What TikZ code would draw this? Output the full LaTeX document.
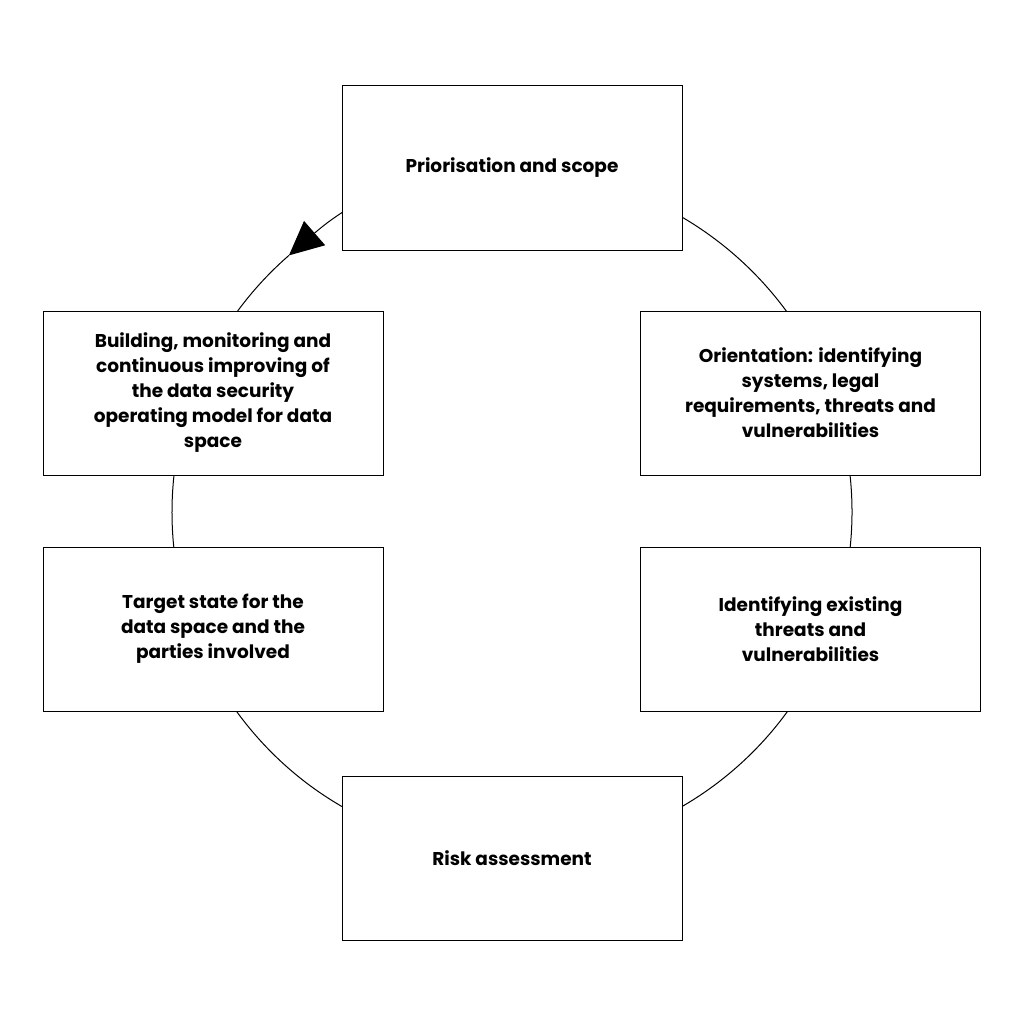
\documentclass[tikz,border=0pt]{standalone}
\usepackage{fontspec}
\setmainfont{Poppins}
\usetikzlibrary{arrows.meta}
\begin{document}
\begin{tikzpicture}[x=1pt,y=-1pt,
  box/.style={draw=black,line width=1pt,fill=white,minimum width=340pt,minimum height=164pt,
    align=center,font=\bfseries\fontsize{18.5}{25}\selectfont,inner sep=0pt}]
\useasboundingbox (0,0) rectangle (1024,1024);
\fill[white] (0,0) rectangle (1024,1024);
\coordinate (c) at (512,512);
\draw[line width=1pt,{Triangle[length=34pt,width=32pt]}-] (c) ++(-131:340) coordinate (s) arc[start angle=-131,end angle=229,radius=340];
\node[box] (t) at (512,168) {Priorisation and scope};
\node[box] (r1) at (810.5,393) {Orientation: identifying\\systems, legal\\requirements, threats and\\vulnerabilities};
\node[box] (r2) at (810.5,629) {Identifying existing\\threats and\\vulnerabilities};
\node[box] (b) at (512,858) {Risk assessment};
\node[box] (l2) at (213,629) {Target state for the\\data space and the\\parties involved};
\node[box] (l1) at (213,393) {Building, monitoring and\\continuous improving of\\the data security\\operating model for data\\space};
\end{tikzpicture}
\end{document}
